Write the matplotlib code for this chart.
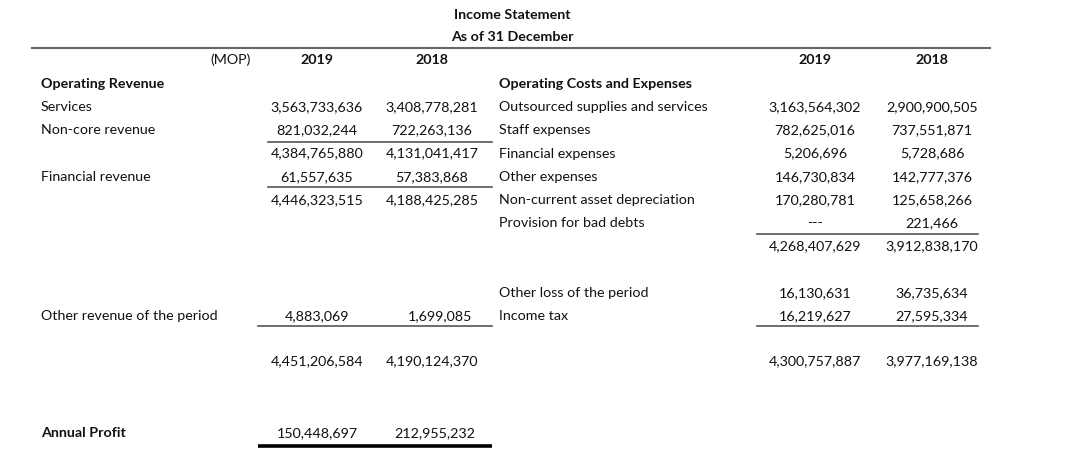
import matplotlib.pyplot as plt

plt.rcParams['font.family'] = ['Lato', 'DejaVu Sans']

# ===== data =====
title = 'Income Statement'
subtitle = 'As of 31 December'
unit = '(MOP)'
years = ['2019', '2018']

rev_head = 'Operating Revenue'
rev_labels = ['Services', 'Non-core revenue', '', 'Financial revenue', '']
rev_2019 = ['3,563,733,636', '821,032,244', '4,384,765,880', '61,557,635', '4,446,323,515']
rev_2018 = ['3,408,778,281', '722,263,136', '4,131,041,417', '57,383,868', '4,188,425,285']

cost_head = 'Operating Costs and Expenses'
cost_labels = ['Outsourced supplies and services', 'Staff expenses', 'Financial expenses',
               'Other expenses', 'Non-current asset depreciation', 'Provision for bad debts', '']
cost_2019 = ['3,163,564,302', '782,625,016', '5,206,696', '146,730,834', '170,280,781', '---',
             '4,268,407,629']
cost_2018 = ['2,900,900,505', '737,551,871', '5,728,686', '142,777,376', '125,658,266', '221,466',
             '3,912,838,170']

other_rev_label = 'Other revenue of the period'
other_rev = ['4,883,069', '1,699,085']
other_cost_labels = ['Other loss of the period', 'Income tax']
other_cost_2019 = ['16,130,631', '16,219,627']
other_cost_2018 = ['36,735,634', '27,595,334']

total_rev = ['4,451,206,584', '4,190,124,370']
total_cost = ['4,300,757,887', '3,977,169,138']

profit_label = 'Annual Profit'
profit = ['150,448,697', '212,955,232']

# ===== layout (pixel coordinates) =====
W, H = 1080, 466
fig = plt.figure(figsize=(W / 100, H / 100), dpi=100)
ax = fig.add_axes([0, 0, 1, 1])
ax.set_xlim(0, W)
ax.set_ylim(H, 0)
ax.axis('off')

txt = '#111111'
fs = 10.3
xl, xl19, xl18 = 41, 317, 432
xr, xr19, xr18 = 499, 815, 932
row0, dy = 84, 23.2


def t(x, y, s, ha='left', bold=False):
    ax.text(x, y, s, ha=ha, va='center', fontsize=fs, color=txt,
            fontweight='bold' if bold else 'normal')


# title
t(512, 15, title, ha='center', bold=True)
t(512, 37, subtitle, ha='center', bold=True)
ax.plot([32, 990], [48, 48], color='#666666', lw=1.5)

# header
t(231, 60, unit, ha='center')
for x, yr in zip([xl19, xl18, xr19, xr18], years * 2):
    t(x, 60, yr, ha='center', bold=True)

# left block
t(xl, row0, rev_head, bold=True)
for i, (lab, a, b) in enumerate(zip(rev_labels, rev_2019, rev_2018)):
    y = row0 + dy * (i + 1)
    t(xl, y, lab)
    t(xl19, y, a, ha='center')
    t(xl18, y, b, ha='center')
ax.plot([268, 492], [142, 142], color='#555555', lw=1.2)
ax.plot([268, 492], [187, 187], color='#555555', lw=1.2)

# right block
t(xr, row0, cost_head, bold=True)
for i, (lab, a, b) in enumerate(zip(cost_labels, cost_2019, cost_2018)):
    y = row0 + dy * (i + 1)
    t(xr, y, lab)
    t(xr19, y, a, ha='center')
    t(xr18, y, b, ha='center')
ax.plot([757, 978], [234, 234], color='#555555', lw=1.2)

# other items
t(xl, 316, other_rev_label)
t(xl19, 316, other_rev[0], ha='center')
t(440, 316, other_rev[1], ha='center')
ax.plot([258, 492], [326, 326], color='#555555', lw=1.2)

for y, lab, a, b in zip([293, 316], other_cost_labels, other_cost_2019, other_cost_2018):
    t(xr, y, lab)
    t(xr19, y, a, ha='center')
    t(xr18, y, b, ha='center')
ax.plot([757, 978], [326, 326], color='#555555', lw=1.2)

# totals
t(xl19, 361, total_rev[0], ha='center')
t(xl18, 361, total_rev[1], ha='center')
t(xr19, 361, total_cost[0], ha='center')
t(xr18, 361, total_cost[1], ha='center')

# profit
t(xl, 433, profit_label, bold=True)
t(xl19, 433, profit[0], ha='center')
t(435, 433, profit[1], ha='center')
ax.plot([258, 492], [446, 446], color='black', lw=2.6, solid_capstyle='butt')

fig.savefig('out.png', dpi=100, facecolor='white')
